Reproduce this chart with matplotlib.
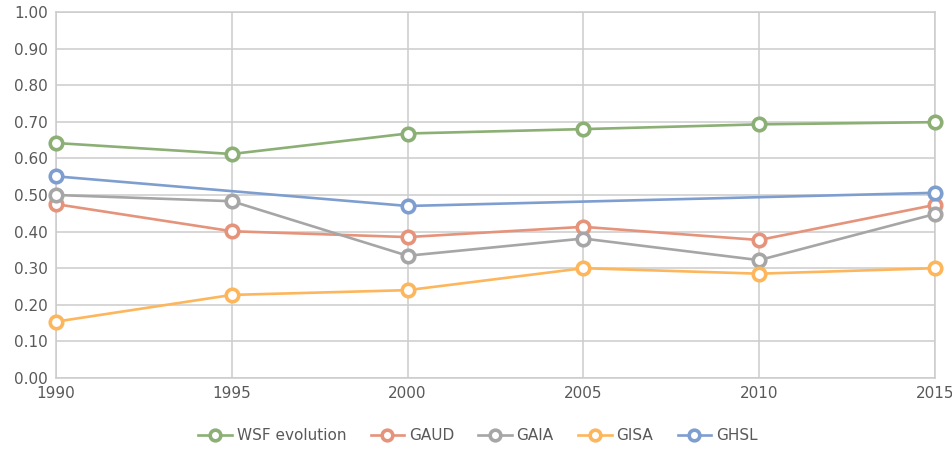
import matplotlib
matplotlib.use("Agg")
import matplotlib.pyplot as plt

years = [1990, 1995, 2000, 2005, 2010, 2015]
wsf = [0.642, 0.612, 0.668, 0.680, 0.693, 0.699]
gaud = [0.475, 0.401, 0.385, 0.413, 0.377, 0.473]
gaia = [0.500, 0.483, 0.334, 0.381, 0.322, 0.448]
gisa = [0.154, 0.227, 0.240, 0.300, 0.285, 0.300]
ghsl_years = [1990, 2000, 2015]
ghsl = [0.551, 0.470, 0.506]

series = [
    ("WSF evolution", years, wsf, "#8BAF74"),
    ("GAUD", years, gaud, "#E5937A"),
    ("GAIA", years, gaia, "#A6A6A6"),
    ("GISA", years, gisa, "#FDB65B"),
    ("GHSL", ghsl_years, ghsl, "#7F9ED0"),
]

GRID = "#CCCCCC"
TXT = "#595959"

fig = plt.figure(figsize=(9.53, 4.54), dpi=100)
ax = fig.add_axes([0.0588, 0.1674, 0.9222, 0.8062])

for name, xs, ys, col in series:
    ax.plot(xs, ys, color=col, lw=1.9, marker="o", ms=9,
            mfc="white", mec=col, mew=2.6, label=name, zorder=3, clip_on=False)

ax.set_xlim(1990, 2015)
ax.set_ylim(0, 1.0)
ax.set_xticks(years)
ax.set_yticks([i / 10 for i in range(11)])
ax.set_yticklabels([f"{i / 10:.2f}" for i in range(11)])
ax.grid(True, color=GRID, lw=1.1)
ax.set_axisbelow(True)
for s in ax.spines.values():
    s.set_color(GRID)
    s.set_linewidth(1.1)
ax.tick_params(length=0, labelsize=11, labelcolor=TXT, pad=6)

ax.legend(loc="upper center", bbox_to_anchor=(0.48, -0.1), ncol=5, frameon=False,
          fontsize=11, labelcolor=TXT, handlelength=2.2, handletextpad=0.3,
          columnspacing=1.6, markerscale=0.85)

fig.savefig("out.png", facecolor="white")
